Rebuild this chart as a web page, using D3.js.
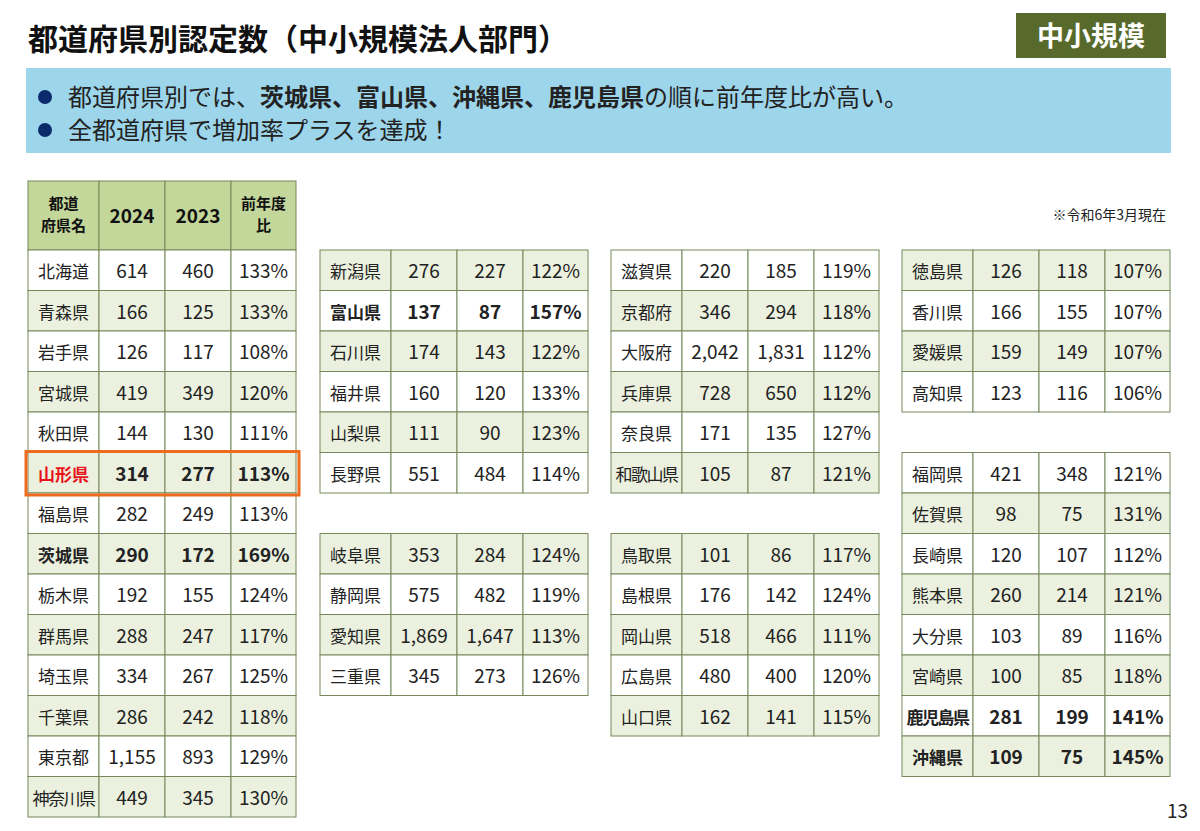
<!DOCTYPE html>
<html><head><meta charset="utf-8">
<script src="https://cdn.jsdelivr.net/npm/d3@7"></script>
<style>body{margin:0;background:#fff}svg{display:block}text{font-family:"Noto Sans CJK JP","Noto Sans",sans-serif}</style>
</head><body><svg id="c" width="1200" height="831"></svg>
<script>
const prefectures=["北海道","青森県","岩手県","宮城県","秋田県","山形県","福島県","茨城県","栃木県","群馬県","埼玉県","千葉県","東京都","神奈川県",
"新潟県","富山県","石川県","福井県","山梨県","長野県","岐阜県","静岡県","愛知県","三重県",
"滋賀県","京都府","大阪府","兵庫県","奈良県","和歌山県","鳥取県","島根県","岡山県","広島県","山口県",
"徳島県","香川県","愛媛県","高知県","福岡県","佐賀県","長崎県","熊本県","大分県","宮崎県","鹿児島県","沖縄県"];
const count2024=[614,166,126,419,144,314,282,290,192,288,334,286,1155,449, 276,137,174,160,111,551,353,575,1869,345, 220,346,2042,728,171,105,101,176,518,480,162, 126,166,159,123,421,98,120,260,103,100,281,109];
const count2023=[460,125,117,349,130,277,249,172,155,247,267,242,893,345, 227,87,143,120,90,484,284,482,1647,273, 185,294,1831,650,135,87,86,142,466,400,141, 118,155,149,116,348,75,107,214,89,85,199,75];
const ratio=[133,133,108,120,111,113,113,169,124,117,125,118,129,130, 122,157,122,133,123,114,124,119,113,126, 119,118,112,112,127,121,117,124,111,120,115, 107,107,107,106,121,131,112,121,116,118,141,145];
const headers=["都道\n府県名","2024","2023","前年度\n比"];
const boldPrefs=["山形県","茨城県","富山県","鹿児島県","沖縄県"];
// blocks: [table, first prefecture index, count, first row, green-first]
const blocks=[[0,0,14,0,false],[1,14,6,0,true],[1,20,4,7,true],[2,24,6,0,false],[2,30,5,7,true],[3,35,4,0,true],[3,39,8,5,false]];

const svg=d3.select("#c");
const G="#ebf1de",HDR="#c4d79b",BORDER="#76875a";
svg.append("text").attr("x",28).attr("y",50).attr("font-size",30).attr("font-weight",700).attr("fill","#111").text("都道府県別認定数（中小規模法人部門）");
svg.append("rect").attr("x",1016).attr("y",13).attr("width",150).attr("height",45).attr("fill","#576a2b");
svg.append("text").attr("x",1091).attr("y",46).attr("text-anchor","middle").attr("font-size",27).attr("font-weight",700).attr("fill","#fff").text("中小規模");
svg.append("rect").attr("x",26).attr("y",68).attr("width",1145).attr("height",85).attr("fill","#9dd5ea");
const b1=svg.append("text").attr("x",68).attr("y",106).attr("font-size",24).attr("fill","#222");
[["都道府県別では、",400],["茨城県、富山県、沖縄県、鹿児島県",700],["の順に前年度比が高い。",400]].forEach(([t,w])=>b1.append("tspan").attr("font-weight",w).text(t));
svg.append("text").attr("x",68).attr("y",139).attr("font-size",24).attr("fill","#222").text("全都道府県で増加率プラスを達成！");
[97,130].forEach(y=>svg.append("circle").attr("cx",45).attr("cy",y).attr("r",7).attr("fill","#0b2a6b"));
svg.append("text").attr("x",1166).attr("y",220).attr("text-anchor","end").attr("font-size",14).attr("fill","#222").text("※令和6年3月現在");
svg.append("text").attr("x",1188).attr("y",818).attr("text-anchor","end").attr("font-size",19).attr("fill","#222").text("13");

const tableX=[28,320,611,902];
const colW=[71,66,66,65];
const y=d3.scaleBand().domain(d3.range(14)).range([250,817]);
const rh=y.bandwidth();
function colX(t,c){return tableX[t]+d3.sum(colW.slice(0,c));}
headers.forEach((h,c)=>{
  const x=colX(0,c);
  svg.append("rect").attr("x",x).attr("y",181).attr("width",colW[c]).attr("height",69).attr("fill",HDR).attr("stroke",BORDER);
  const lines=h.split("\n");
  const t=svg.append("text").attr("text-anchor","middle").attr("font-size",lines.length>1?15:19).attr("font-weight",700).attr("fill","#111");
  lines.forEach((l,i)=>t.append("tspan").attr("x",x+colW[c]/2).attr("y",lines.length>1?209+i*22:223).text(l));
});
const fmt=d3.format(",");
blocks.forEach(([t,start,n,row0,greenFirst])=>{
  d3.range(n).forEach(i=>{
    const k=start+i,r=row0+i,green=(i%2===0)===greenFirst;
    const name=prefectures[k],bold=boldPrefs.includes(name);
    const vals=[name,fmt(count2024[k]),fmt(count2023[k]),ratio[k]+"%"];
    vals.forEach((v,c)=>{
      const x=colX(t,c);
      svg.append("rect").attr("x",x).attr("y",y(r)).attr("width",colW[c]).attr("height",rh).attr("fill",green?G:"#fff").attr("stroke",BORDER);
      svg.append("text").attr("x",x+colW[c]/2).attr("y",y(r)+rh/2+8).attr("text-anchor","middle")
        .attr("font-size",c===0?17:19).attr("font-weight",bold?700:400)
        .attr("letter-spacing",c===0&&name.length>3?-1.5:0)
        .attr("fill",name==="山形県"&&c===0?"#e8141c":"#222").text(v);
    });
  });
});
svg.append("rect").attr("x",26).attr("y",y(5)-1).attr("width",273).attr("height",rh+3).attr("fill","none").attr("stroke","#ee6a1c").attr("stroke-width",3);
</script></body></html>
